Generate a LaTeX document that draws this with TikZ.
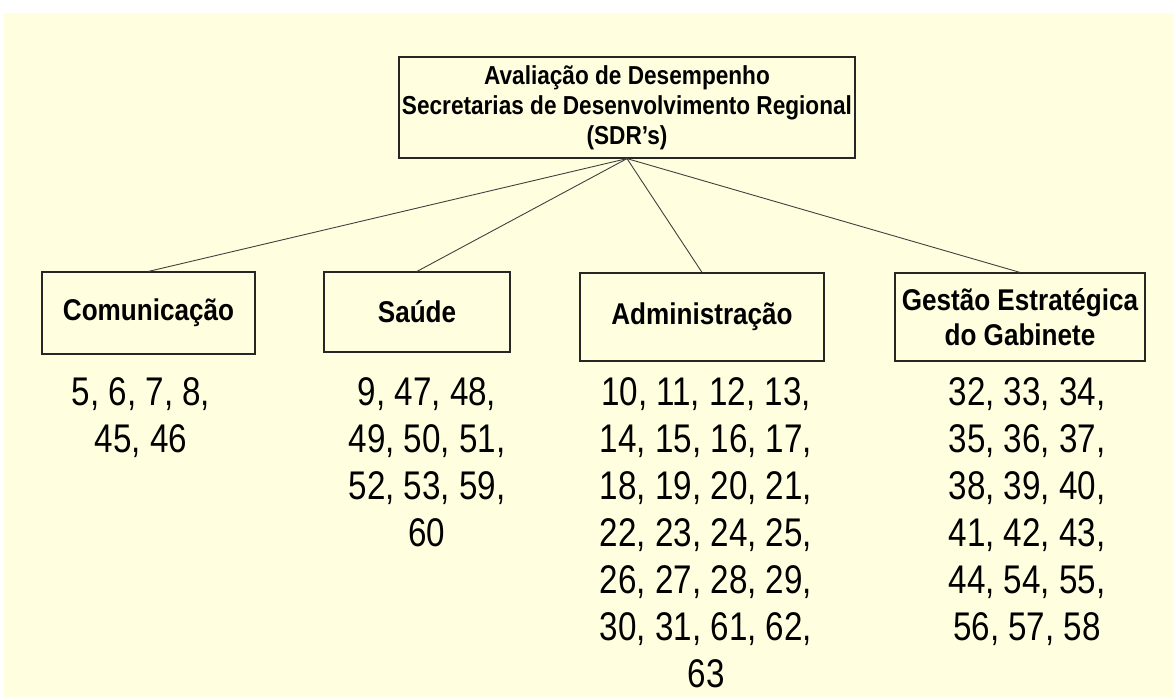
\documentclass[tikz,border=0pt]{standalone}
\usepackage{fontspec}
\setmainfont{Liberation Sans}
\newfontfamily\boxfont[FakeStretch=0.87]{Liberation Sans}
\newfontfamily\numfont[FakeStretch=0.83]{Liberation Sans}
\definecolor{bgyellow}{RGB}{255,255,224}
\begin{document}
\begin{tikzpicture}[x=1pt,y=-1pt,
  box/.style={draw=black!85, line width=1.2pt, inner sep=0pt, align=center,
    font=\boxfont\bfseries\fontsize{30}{34.5}\selectfont},
  topbox/.style={box, font=\boxfont\bfseries\fontsize{26}{30}\selectfont},
  numtxt/.style={inner sep=0pt, align=center, anchor=north,
    font=\numfont\fontsize{40}{47}\selectfont},
  link/.style={draw=black!75, line width=0.9pt}]
\fill[white] (0,0) rectangle (1173,697);
\fill[bgyellow] (4,13) rectangle (1173,697);
\useasboundingbox (0,0) rectangle (1173,697);

\node[topbox, minimum width=456pt, minimum height=101pt] (top) at (627,107.5)
  {Avaliação de Desempenho\\Secretarias de Desenvolvimento Regional\\(SDR’s)};

\node[box, minimum width=213pt, minimum height=82pt] (com) at (148.5,313) {Comunicação};
\node[box, minimum width=186pt, minimum height=80pt] (sau) at (417,312) {Saúde};
\node[box, minimum width=244pt, minimum height=88pt] (adm) at (702,317) {Administração};
\node[box, minimum width=250pt, minimum height=88pt] (ges) at (1020,317) {Gestão Estratégica\\do Gabinete};

\draw[link] (top.south) -- (com.north);
\draw[link] (top.south) -- (sau.north);
\draw[link] (top.south) -- (adm.north);
\draw[link] (top.south) -- (ges.north);

\node[numtxt] (ncom) at (141,377) {5, 6, 7, 8,\\45, 46};
\node[numtxt] (nsau) at (427,377) {9, 47, 48,\\49, 50, 51,\\52, 53, 59,\\60};
\node[numtxt] (nadm) at (706,377) {10, 11, 12, 13,\\14, 15, 16, 17,\\18, 19, 20, 21,\\22, 23, 24, 25,\\26, 27, 28, 29,\\30, 31, 61, 62,\\63};
\node[numtxt] (nges) at (1027,377) {32, 33, 34,\\35, 36, 37,\\38, 39, 40,\\41, 42, 43,\\44, 54, 55,\\56, 57, 58};
\end{tikzpicture}
\end{document}
